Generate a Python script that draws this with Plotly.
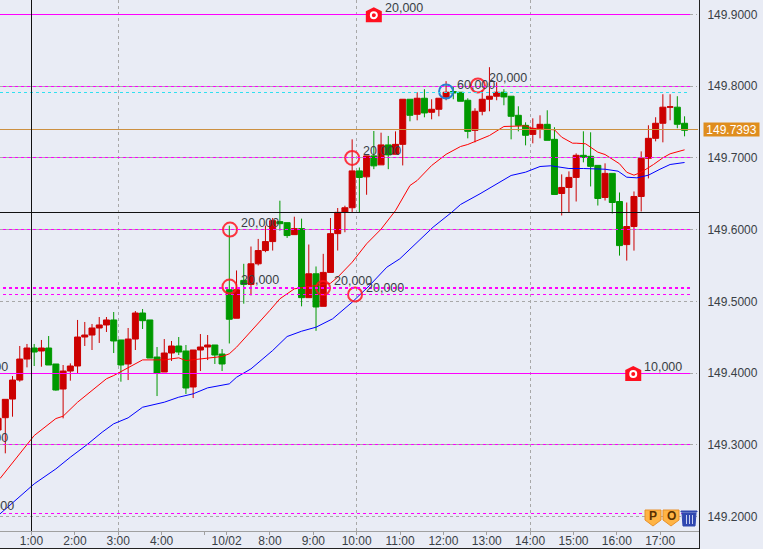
import plotly.graph_objects as go

# candle data, oldest first (index -1 is cut off by the left edge)
candle_index = list(range(-1, 95))
open_prices = [
    149.3205, 149.3377, 149.3637, 149.3902, 149.4195, 149.4349, 149.4307, 149.4349, 149.4126, 149.3777,
    149.4028, 149.4098, 149.4502, 149.4530, 149.4628, 149.4670, 149.4740, 149.4461, 149.4126, 149.4474,
    149.4837, 149.4740, 149.4223, 149.4014, 149.4279, 149.4377, 149.4307, 149.3805, 149.4321, 149.4363,
    149.4391, 149.4265, 149.5162, 149.4764, 149.5292, 149.5236, 149.5523, 149.5708, 149.5833, 149.6111,
    149.6097, 149.5930, 149.6014, 149.5051, 149.5384, 149.4930, 149.5403, 149.5944, 149.6241, 149.6305,
    149.6819, 149.6736, 149.7028, 149.6903, 149.7181, 149.7051, 149.7189, 149.7818, 149.7608, 149.7832,
    149.7636, 149.7678, 149.7846, 149.7925, 149.7916, 149.7804, 149.7384, 149.7650, 149.7818, 149.7860,
    149.7916, 149.7860, 149.7594, 149.7454, 149.7328, 149.7412, 149.7468, 149.7259, 149.6504, 149.6588,
    149.6728, 149.7036, 149.7022, 149.6896, 149.6448, 149.6784, 149.6392, 149.5791, 149.6043, 149.6462,
    149.6994, 149.7273, 149.7483, 149.7707, 149.7707, 149.7483,
]
high_prices = [
    149.3368, 149.3633, 149.3958, 149.4377, 149.4405, 149.4405, 149.4461, 149.4516, 149.4126, 149.4112,
    149.4135, 149.4740, 149.4712, 149.4684, 149.4781, 149.4781, 149.4851, 149.4461, 149.4628, 149.4865,
    149.4893, 149.4740, 149.4363, 149.4474, 149.4447, 149.4502, 149.4391, 149.4321, 149.4544, 149.4530,
    149.4391, 149.4335, 149.6055, 149.5430, 149.5523, 149.5764, 149.5870, 149.6055, 149.6162, 149.6403,
    149.6097, 149.6180, 149.6153, 149.5792, 149.5486, 149.5662, 149.6162, 149.6301, 149.6333, 149.7259,
    149.6866, 149.7028, 149.7375, 149.7352, 149.7306, 149.7370, 149.7818, 149.7818, 149.7916, 149.7958,
    149.7818, 149.7832, 149.8070, 149.8000, 149.7916, 149.7832, 149.7692, 149.7944, 149.8265, 149.8055,
    149.7958, 149.7860, 149.7720, 149.7496, 149.7552, 149.7594, 149.7664, 149.7427, 149.6770, 149.6812,
    149.7063, 149.7371, 149.7357, 149.6896, 149.6924, 149.6784, 149.6518, 149.6378, 149.6532, 149.7091,
    149.7455, 149.7567, 149.7888, 149.7888, 149.7860, 149.7580,
]
low_prices = [
    149.3120, 149.2880, 149.3391, 149.3879, 149.4079, 149.4098, 149.4088, 149.4112, 149.3754, 149.3368,
    149.3893, 149.3995, 149.4377, 149.4321, 149.4419, 149.4572, 149.4279, 149.3879, 149.3902, 149.4321,
    149.4614, 149.4209, 149.3679, 149.4014, 149.4168, 149.4251, 149.3707, 149.3651, 149.4028, 149.4181,
    149.4126, 149.4028, 149.4412, 149.4764, 149.4967, 149.5083, 149.5500, 149.5685, 149.5708, 149.5986,
    149.5884, 149.5930, 149.4930, 149.5051, 149.4588, 149.4930, 149.5403, 149.5708, 149.5963, 149.6241,
    149.6241, 149.6486, 149.6843, 149.6903, 149.6843, 149.7049, 149.6895, 149.7510, 149.7524, 149.7566,
    149.7538, 149.7580, 149.7804, 149.7818, 149.7790, 149.7273, 149.7217, 149.7594, 149.7650, 149.7804,
    149.7734, 149.7259, 149.7370, 149.7175, 149.7203, 149.7273, 149.7245, 149.6490, 149.6197, 149.6243,
    149.6392, 149.6938, 149.6602, 149.6336, 149.6406, 149.6225, 149.5637, 149.5568, 149.5707, 149.6253,
    149.6714, 149.7231, 149.7217, 149.7525, 149.7413, 149.7301,
]
close_prices = [
    149.3368, 149.3633, 149.3902, 149.4195, 149.4349, 149.4293, 149.4349, 149.4112, 149.3763, 149.4028,
    149.4098, 149.4502, 149.4530, 149.4628, 149.4670, 149.4740, 149.4447, 149.4112, 149.4474, 149.4837,
    149.4730, 149.4209, 149.4000, 149.4279, 149.4377, 149.4293, 149.3791, 149.4321, 149.4363, 149.4391,
    149.4251, 149.4126, 149.4750, 149.5162, 149.5236, 149.5523, 149.5708, 149.5833, 149.6125, 149.6083,
    149.5917, 149.6014, 149.5051, 149.5384, 149.4921, 149.5403, 149.5944, 149.6241, 149.6305, 149.6819,
    149.6727, 149.7028, 149.6889, 149.7181, 149.7042, 149.7189, 149.7818, 149.7594, 149.7832, 149.7627,
    149.7678, 149.7832, 149.7916, 149.7906, 149.7790, 149.7370, 149.7650, 149.7818, 149.7860, 149.7916,
    149.7850, 149.7580, 149.7454, 149.7315, 149.7412, 149.7468, 149.7245, 149.6490, 149.6588, 149.6728,
    149.7036, 149.7008, 149.6882, 149.6434, 149.6784, 149.6378, 149.5777, 149.6043, 149.6462, 149.6994,
    149.7273, 149.7483, 149.7707, 149.7712, 149.7469, 149.7385,
]

# moving averages, read at the candles where the line could be seen
red_ma_index = [
    -0.73, 4, 7, 8, 10, 12, 14, 15, 17, 19, 22, 24, 25, 27, 29, 30, 31, 32, 36.6, 38, 40, 45, 46, 48, 50, 52,
    54, 56, 57, 59, 61, 63, 64, 67, 69, 72, 73, 76, 77, 78.5, 79, 80.3, 82, 83, 85, 86, 87, 88, 89.7, 91, 92, 93, 94,
]
red_ma = [
    149.2529, 149.3128, 149.3365, 149.3398, 149.3593, 149.3756, 149.3920, 149.3965, 149.4072, 149.4183,
    149.4183, 149.4212, 149.4174, 149.4198, 149.4226, 149.4230, 149.4268, 149.4360, 149.4872, 149.5035,
    149.5174, 149.5252, 149.5336, 149.5545, 149.5802, 149.6006, 149.6266, 149.6615, 149.6685, 149.6894,
    149.7050, 149.7159, 149.7187, 149.7312, 149.7438, 149.7447, 149.7410, 149.7392, 149.7289, 149.7205,
    149.7205, 149.7197, 149.7080, 149.7047, 149.6918, 149.6800, 149.6759, 149.6800, 149.6908, 149.7001,
    149.7057, 149.7089, 149.7113,
]
blue_ma_index = [
    -0.73, 4, 7, 9, 11.3, 13.4, 15, 17, 19, 22, 24, 26, 28, 31, 32, 34, 37, 39, 41, 43, 45.3, 48, 50.4, 52.8,
    54.6, 57, 59.2, 61.8, 63, 65.7, 68, 70, 72, 74, 75.5, 78, 80, 83, 84.8, 86, 87.4, 89, 90.6, 92, 94,
]
blue_ma = [
    149.2036, 149.2454, 149.2663, 149.2826, 149.3000, 149.3175, 149.3292, 149.3375, 149.3523, 149.3593,
    149.3663, 149.3710, 149.3793, 149.3849, 149.3941, 149.4058, 149.4314, 149.4509, 149.4583, 149.4639,
    149.4756, 149.4988, 149.5220, 149.5476, 149.5593, 149.5824, 149.6034, 149.6243, 149.6350, 149.6500,
    149.6639, 149.6755, 149.6801, 149.6880, 149.6890, 149.6852, 149.6852, 149.6842, 149.6815, 149.6731,
    149.6722, 149.6759, 149.6842, 149.6908, 149.6936,
]

# position and order lines
solid_order_prices = [149.9, 149.4]
dashed_order_prices = [149.8, 149.7, 149.6, 149.5195, 149.5174, 149.5093, 149.3, 149.2046]
cyan_order_price = 149.7919
last_price = 149.7393
cross_price = 149.6245
cross_index = 3.63

# circles on the chart with their quantity labels
red_circle_index = [31.1, 31.03, 43.97, 48.4, 48, 65.4]
red_circle_price = [149.6, 149.5206, 149.5186, 149.5095, 149.7, 149.801]
red_circle_label = ["20,000", "20,000", "20,000", "20,000", "20,000", "20,000"]
blue_circle_index = [61]
blue_circle_price = [149.7926]
blue_circle_label = ["60,000"]
house_index = [51, 86.9]
house_price = [149.899, 149.3985]
house_label = ["20,000", "10,000"]
cut_label_price = [149.408, 149.31, 149.2152]

tick_index = [3.63, 9.63, 15.63, 21.63, 27.63, 30.63, 36.63, 42.63, 48.63, 54.63, 60.63, 66.63, 72.63, 78.63, 84.63, 90.63]
tick_labels = ["1:00", "2:00", "3:00", "4:00", "", "10/02", "8:00", "9:00", "10:00", "11:00", "12:00", "13:00", "14:00", "15:00", "16:00", "17:00"]
price_ticks = [149.9, 149.8, 149.7, 149.6, 149.5, 149.4, 149.3, 149.2]
dashed_time_index = [15.63, 48.63, 72.63]

BG = "#E9ECF5"
FONT = "Liberation Sans"
TEXT = "#3A3F46"
PLOT_W = 699
PLOT_H = 531

fig = go.Figure()
fig.add_trace(go.Candlestick(
    x=candle_index, open=open_prices, high=high_prices, low=low_prices, close=close_prices,
    increasing=dict(line=dict(color="#CC0000", width=1), fillcolor="#CC0000"),
    decreasing=dict(line=dict(color="#009900", width=1), fillcolor="#009900"),
    whiskerwidth=0, showlegend=False,
))
fig.add_trace(go.Scatter(x=red_ma_index, y=red_ma, mode="lines", line=dict(color="#FF0000", width=1), showlegend=False))
fig.add_trace(go.Scatter(x=blue_ma_index, y=blue_ma, mode="lines", line=dict(color="#0000FF", width=1), showlegend=False))
fig.add_trace(go.Scatter(x=red_circle_index, y=red_circle_price, mode="markers", showlegend=False,
                         marker=dict(symbol="circle-open", size=14, color="rgba(255,20,30,0.85)", line=dict(width=2))))
fig.add_trace(go.Scatter(x=blue_circle_index, y=blue_circle_price, mode="markers", showlegend=False,
                         marker=dict(symbol="circle-open", size=14, color="#2A7FD0", line=dict(width=2))))

shapes = []
# price grid as shapes, so it lands on the same pixel row as the order lines
for p in price_ticks:
    shapes.append(dict(type="line", xref="paper", yref="y", x0=0, x1=697 / PLOT_W, y0=p, y1=p, layer="below",
                       line=dict(color="#A8A8A8", width=1, dash="3px,3px")))
for p in solid_order_prices:
    shapes.append(dict(type="line", xref="paper", yref="y", x0=0, x1=690 / PLOT_W, y0=p, y1=p,
                       line=dict(color="#FF00FF", width=1)))
for p in dashed_order_prices:
    shapes.append(dict(type="line", xref="paper", yref="y", x0=3 / PLOT_W, x1=690 / PLOT_W, y0=p, y1=p,
                       line=dict(color="#FF00FF", width=1, dash="3px,3px")))
shapes.append(dict(type="line", xref="paper", yref="y", x0=0, x1=688 / PLOT_W, y0=cyan_order_price, y1=cyan_order_price,
                   line=dict(color="#30E0F0", width=1, dash="3px,3px")))
shapes.append(dict(type="line", xref="paper", yref="y", x0=0, x1=698 / PLOT_W, y0=last_price, y1=last_price,
                   line=dict(color="#CC9040", width=1)))
for i in dashed_time_index:
    shapes.append(dict(type="line", xref="x", yref="paper", x0=i, x1=i, y0=0, y1=1, layer="below",
                       line=dict(color="#A8A8A8", width=1, dash="3px,3px")))
# crosshair
shapes.append(dict(type="line", xref="paper", yref="y", x0=0, x1=1, y0=cross_price, y1=cross_price,
                   line=dict(color="#111111", width=1)))
shapes.append(dict(type="line", xref="x", yref="paper", x0=cross_index, x1=cross_index, y0=0, y1=1,
                   line=dict(color="#111111", width=1)))
# frame down to the window edge
shapes.append(dict(type="line", xref="paper", yref="paper", x0=1, x1=1, y0=-18 / PLOT_H, y1=1,
                   line=dict(color="#222222", width=1)))
shapes.append(dict(type="line", xref="paper", yref="paper", x0=0, x1=1, y0=-17 / PLOT_H, y1=-17 / PLOT_H,
                   line=dict(color="#222222", width=1)))

# order houses
for i, p in zip(house_index, house_price):
    shapes.append(dict(type="path", xref="x", yref="y", xsizemode="pixel", ysizemode="pixel", xanchor=i, yanchor=p,
                       path="M -8 -7 L -8 4 L 0 8 L 8 4 L 8 -7 Z", fillcolor="#FF1020", line=dict(width=0)))
    shapes.append(dict(type="circle", xref="x", yref="y", xsizemode="pixel", ysizemode="pixel", xanchor=i, yanchor=p,
                       x0=-3, x1=3, y0=-3, y1=3, fillcolor="#FF1020", line=dict(color="white", width=2)))


def icon_anchor(px, py):
    return dict(xref="paper", yref="paper", xsizemode="pixel", ysizemode="pixel",
                xanchor=px / PLOT_W, yanchor=(PLOT_H - py) / PLOT_H)


# P / O badges and the bin at the bottom right
for cx in [653, 671]:
    shapes.append(dict(type="path", path="M -8 7 L 8 7 L 8 -3 L 0 -9 L -8 -3 Z", fillcolor="#FFB445",
                       line=dict(color="#E8902A", width=1), **icon_anchor(cx, 517)))
shapes.append(dict(type="path", path="M -7 4 L 7 4 L 6 -9 L -6 -9 Z", fillcolor="#3048B0",
                   line=dict(color="#3048B0", width=1), **icon_anchor(689, 517)))
shapes.append(dict(type="path", path="M -8 6 L 8 6 L 8 5 L -8 5 Z", fillcolor="#3048B0",
                   line=dict(color="#3048B0", width=1), **icon_anchor(689, 517)))
for dx in [-3, 0, 3]:
    shapes.append(dict(type="line", x0=dx, x1=dx, y0=2, y1=-7,
                       line=dict(color="#C8D0F0", width=1), **icon_anchor(689, 517)))

annotations = []
for i, p, t in zip(red_circle_index + blue_circle_index + house_index,
                   red_circle_price + blue_circle_price + house_price,
                   red_circle_label + blue_circle_label + house_label):
    annotations.append(dict(x=i, y=p, text=t, showarrow=False, xanchor="left", yanchor="middle", xshift=9, yshift=7,
                            font=dict(family=FONT, size=12.5, color=TEXT)))
for p in cut_label_price:
    annotations.append(dict(xref="paper", x=(10 if p > 149.3 else 16) / PLOT_W, y=p, text="20,000", showarrow=False,
                            xanchor="right", yanchor="middle", font=dict(family=FONT, size=12.5, color=TEXT)))
annotations.append(dict(xref="paper", x=703 / PLOT_W, y=last_price, text=f"{last_price:.4f}", showarrow=False,
                        xanchor="left", yanchor="middle", width=55, height=13, bgcolor="#DF8D1E", borderpad=0,
                        font=dict(family=FONT, size=12, color="white")))
for cx, t in zip([653, 671], ["P", "O"]):
    annotations.append(dict(xref="paper", yref="paper", x=cx / PLOT_W, y=(PLOT_H - 516) / PLOT_H, text=f"<b>{t}</b>",
                            showarrow=False, xanchor="center", yanchor="middle",
                            font=dict(family=FONT, size=12, color="#5A3000")))

fig.update_layout(
    width=763, height=549, autosize=False,
    margin=dict(l=0, r=64, t=0, b=18, pad=0),
    paper_bgcolor=BG, plot_bgcolor=BG,
    font=dict(family=FONT, size=12, color=TEXT),
    boxgap=0.17, boxgroupgap=0,
    showlegend=False,
    shapes=shapes,
    annotations=annotations,
    xaxis=dict(range=[-0.733, 96.0], rangeslider=dict(visible=False), showgrid=False, zeroline=False,
               automargin=False, tickmode="array", tickvals=tick_index, ticktext=tick_labels, ticks="outside",
               ticklen=3, tickcolor="#A0A0A0", showline=True, linecolor="#A0A0A0", linewidth=1, tickangle=0,
               ticklabelstandoff=-4, tickfont=dict(family=FONT, size=12, color=TEXT)),
    yaxis=dict(range=[149.1797, 149.9202], side="right", automargin=False, tickmode="array", tickvals=price_ticks,
               tickformat=".4f", ticks="outside", ticklen=5, tickcolor="rgba(0,0,0,0)",
               showgrid=False, zeroline=False,
               tickfont=dict(family=FONT, size=12, color=TEXT)),
)

# straight shape lines stay one pixel wide instead of blurring over two
crisp_lines = (
    "document.body.style.margin='0';document.body.style.overflow='hidden';"
    "document.querySelectorAll('.shapelayer path').forEach(function(p){"
    "if(p.getAttribute('d').split('L').length==2){p.style.shapeRendering='crispEdges';}});"
)
fig.write_html("out.html", config=dict(displayModeBar=False), post_script=crisp_lines)
